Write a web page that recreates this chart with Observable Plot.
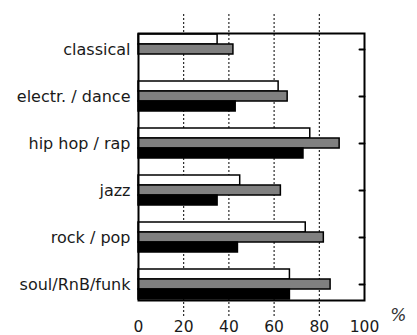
<!DOCTYPE html>
<html>
<head>
<meta charset="utf-8">
<script src="https://cdn.jsdelivr.net/npm/d3@7"></script>
<script src="https://cdn.jsdelivr.net/npm/@observablehq/plot@0.6"></script>
<style>
  body { margin: 0; background: white; }
  #chart { position: relative; width: 417px; height: 335px; }
  #chart > svg { position: absolute; left: 0; top: 0; overflow: visible; background: transparent; }
</style>
</head>
<body>
<div id="chart"></div>
<script>
const categories = ["classical", "electr. / dance", "hip hop / rap", "jazz", "rock / pop", "soul/RnB/funk"];
const seriesNames = ["series 1", "series 2", "series 3"];
const series1 = [35, 62, 76, 45, 74, 67];   // white bars
const series2 = [42, 66, 89, 63, 82, 85];   // gray bars
const series3 = [null, 43, 73, 35, 44, 67]; // black bars
const xTicks = [0, 20, 40, 60, 80, 100];
const gridTicks = [20, 40, 60, 80];
const unitLabel = ["%"];

const values = [series1, series2, series3];
const data = [];
categories.forEach((c, i) => {
  seriesNames.forEach((s, j) => {
    if (values[j][i] != null) data.push({category: c, series: s, value: values[j][i]});
  });
});
const middleRows = data.filter(d => d.series === seriesNames[1]);

const font = "'DejaVu Sans', sans-serif";
const common = {
  width: 417,
  height: 335,
  marginLeft: 138,
  marginRight: 53,
  marginTop: 14,
  marginBottom: 17,
  style: {fontFamily: font, fontSize: "16px", color: "#1a1a1a", background: "transparent"}
};

const tickShape = {draw(context, l) { context.moveTo(0, 0); context.lineTo(0, -l); }};

// background layer: grid, x axis, unit label
const back = Plot.plot({
  ...common,
  x: {domain: [0, 100]},
  marks: [
    Plot.ruleX(gridTicks, {stroke: "black", strokeWidth: 1, strokeDasharray: "2,2"}),
    Plot.axisX({ticks: xTicks, tickSize: 0, tickPadding: 2, label: null, fontSize: 15.5}),
    Plot.text(unitLabel, {frameAnchor: "bottom-right", text: d => d, dx: 42, dy: 2, fontStyle: "italic", fontSize: 17, fill: "#333"})
  ]
});

// foreground layer: bars, category axis, inner right ticks, frame
const front = Plot.plot({
  ...common,
  x: {domain: [0, 100], axis: null},
  y: {domain: seriesNames, padding: 0, axis: null},
  fy: {domain: categories, paddingInner: 0.329, paddingOuter: 0.353, label: null},
  color: {domain: seriesNames, range: ["white", "#808080", "black"]},
  marks: [
    Plot.barX(data, {x: "value", y: "series", fy: "category", fill: "series", stroke: "black", strokeWidth: 1.5}),
    Plot.axisFy({anchor: "left", tickSize: 0, tickPadding: 8, label: null, fontSize: 16}),
    Plot.vector(middleRows, {y: "series", fy: "category", frameAnchor: "right", rotate: -90, length: 5, anchor: "start", shape: tickShape, stroke: "black", strokeWidth: 2}),
    Plot.frame({facet: "super", stroke: "black", strokeWidth: 2})
  ]
});

const el = document.getElementById("chart");
el.append(back);
el.append(front);
</script>
</body>
</html>
